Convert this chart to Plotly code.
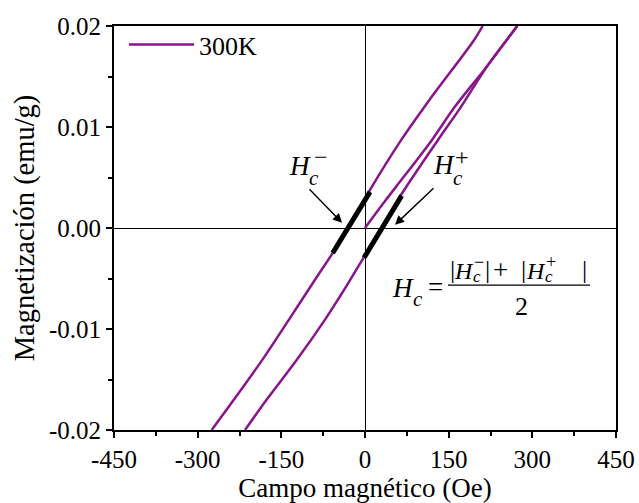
import plotly.graph_objects as go

# Hysteresis loop at 300 K: magnetic field (Oe) vs magnetization (emu/g)
field_virgin = [0, 37.6, 65.4, 120.1, 161.3, 218.2, 273.0]
mag_virgin = [0, 0.00279, 0.00477, 0.00872, 0.01202, 0.01597, 0.0200]

field_desc = [211.0, 195.4, 115.8, 65.0, 9.0, -30.5, -57.9, -89.6, -136.3, -183.8, -234.9, -274.8]
mag_desc = [0.0200, 0.01859, 0.0127, 0.00872, 0.00378, 0.0, -0.00248, -0.00512, -0.00907, -0.01303, -0.01699, -0.0200]

field_asc = [-215.1, -176.2, -121.9, -71.7, -31.7, -3.0, 30.5, 62.7, 130.9, 172.1, 218.2, 273.0]
mag_asc = [-0.0200, -0.01699, -0.01303, -0.00907, -0.00561, -0.00298, 0.0, 0.00311, 0.00872, 0.01199, 0.01597, 0.0200]

# Coercive-field segments highlighted on each branch
hc_minus_field = [-57.9, 9.0]
hc_minus_mag = [-0.00248, 0.00358]
hc_plus_field = [-1.8, 65.8]
hc_plus_mag = [-0.00295, 0.00321]

x_ticks = [-450, -300, -150, 0, 150, 300, 450]
x_ticktext = ["-450", "-300", "-150", "0", "150", "300", "450"]
y_ticks = [-0.02, -0.01, 0.0, 0.01, 0.02]
y_ticktext = ["-0.02", "-0.01", "0.00", "0.01", "0.02"]

PURPLE = "#8a148c"
SERIF = "Liberation Serif, Times New Roman, serif"

# Plot-area box in page pixels, used to place the text annotations
W, H = 639, 503
L, R, T, B = 114, 616, 26, 430.5


def px(x):
    return (x - L) / (R - L)


def py(y):
    return (B - y) / (B - T)


loop_x = field_virgin + [None] + field_desc + [None] + field_asc
loop_y = mag_virgin + [None] + mag_desc + [None] + mag_asc

fig = go.Figure()
fig.add_trace(go.Scatter(
    x=loop_x, y=loop_y, mode="lines", name="300K",
    line=dict(color=PURPLE, width=2.5, shape="spline", smoothing=0.8),
    connectgaps=False,
))
for fx, my in [(hc_minus_field, hc_minus_mag), (hc_plus_field, hc_plus_mag)]:
    fig.add_trace(go.Scatter(
        x=fx, y=my, mode="lines", showlegend=False,
        line=dict(color="black", width=5),
    ))

annotations = []


def txt(x, y, s, size, italic=False):
    if italic:
        s = "<i>" + s + "</i>"
    annotations.append(dict(
        x=px(x), y=py(y), xref="paper", yref="paper", text=s, showarrow=False,
        xanchor="center", yanchor="middle",
        font=dict(family=SERIF, size=size, color="black"),
    ))


# H_c^- label
txt(300, 166, "H", 27, True)
txt(314, 178, "c", 21, True)
txt(321, 157, "−", 24)
# H_c^+ label
txt(444, 165, "H", 27, True)
txt(458, 178, "c", 21, True)
txt(462, 157, "+", 24)

# Formula  H_c = (|H_c^-| + |H_c^+|) / 2
txt(403, 288, "H", 27, True)
txt(418, 299, "c", 21, True)
txt(435, 287, "=", 27)
txt(452, 270, "|", 26)
txt(464, 271, "H", 24, True)
txt(477, 277, "c", 17, True)
txt(479, 262, "−", 18)
txt(487, 270, "|", 26)
txt(500, 270, "+", 27)
txt(523, 270, "|", 26)
txt(536, 271, "H", 24, True)
txt(549, 277, "c", 17, True)
txt(551, 262, "+", 18)
txt(584, 270, "|", 26)
txt(521, 307, "2", 26)

# Arrows pointing at the coercive fields
for tail, head in [((308, 188), (342, 223)), ((435, 187), (395, 225))]:
    annotations.append(dict(
        x=px(head[0]), y=py(head[1]),
        ax=tail[0] - head[0], ay=tail[1] - head[1],
        xref="paper", yref="paper", axref="pixel", ayref="pixel",
        showarrow=True, arrowhead=2, arrowsize=1.3, arrowwidth=1.4,
        arrowcolor="black", text="",
    ))

shapes = [dict(
    type="line", xref="paper", yref="paper",
    x0=px(448), x1=px(590), y0=py(285.5), y1=py(285.5),
    line=dict(color="black", width=1.3),
)]

axis_common = dict(
    showgrid=False, showline=True, linecolor="black", linewidth=1.8,
    mirror=True, ticks="outside", ticklen=6, tickwidth=1.5, tickcolor="black",
    zeroline=True, zerolinecolor="black", zerolinewidth=1,
    tickfont=dict(family=SERIF, size=25, color="black"),
    automargin=False,
)

fig.update_layout(
    width=W, height=H,
    margin=dict(l=L, r=W - R, t=T, b=H - B),
    paper_bgcolor="white", plot_bgcolor="white",
    showlegend=True,
    legend=dict(
        x=px(124), y=py(21), xanchor="left", yanchor="top",
        bgcolor="rgba(0,0,0,0)", itemwidth=65,
        font=dict(family=SERIF, size=26, color="black"),
    ),
    annotations=annotations,
    shapes=shapes,
)
fig.update_xaxes(
    range=[-450, 450], tickvals=x_ticks, ticktext=x_ticktext,
    minor=dict(dtick=75, tick0=0, ticks="outside", ticklen=4, tickcolor="black"),
    title=dict(text="Campo magnético (Oe)", font=dict(family=SERIF, size=27, color="black"), standoff=4),
    **axis_common,
)
fig.update_yaxes(
    range=[-0.02, 0.02], tickvals=y_ticks, ticktext=y_ticktext,
    minor=dict(dtick=0.005, tick0=0, ticks="outside", ticklen=4, tickcolor="black"),
    title=dict(text="Magnetización (emu/g)", font=dict(family=SERIF, size=28.5, color="black"), standoff=6),
    **axis_common,
)

fig.write_html("out.html")
